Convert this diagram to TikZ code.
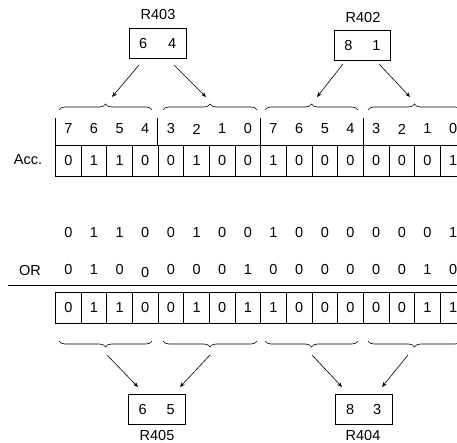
\documentclass[tikz,border=0pt]{standalone}
\usepackage{fontspec}
\setmainfont{Liberation Sans}
\usetikzlibrary{decorations.pathreplacing,arrows.meta}
\begin{document}
\begin{tikzpicture}[x=1pt,y=-1pt,
  every node/.style={font=\fontsize{14.5}{16}\selectfont, inner sep=0pt},
  cell/.style={draw, line width=0.75pt, minimum width=25.65pt, minimum height=31pt},
  rescell/.style={draw, line width=0.75pt, minimum width=25.65pt, minimum height=30.5pt},
  reg/.style={draw, line width=0.75pt, minimum width=56.5pt, minimum height=30pt},
  conn/.style={line width=0.6pt, -{Stealth[length=5pt,width=4pt]}},
  bracebox/.style={decorate, decoration={brace, amplitude=6pt}, line width=0.6pt},
  rule/.style={line width=0.75pt}]
\useasboundingbox (0,0) rectangle (457,442);
\clip (0,0) rectangle (457,442);
% header bit numbers
\foreach \d [count=\i from 0] in {7,6,5,4,3,2,1,0,7,6,5,4,3,2,1,0}
  \node (h\i) at ({55.5+25.65*(\i+0.5)},129) {\d};
% accumulator
\node (acc) at (28,160) {Acc.};
\foreach \v [count=\i from 0] in {0,1,1,0,0,1,0,0,1,0,0,0,0,0,0,1}
  \node[cell] (a\i) at ({55.5+25.65*(\i+0.5)},160.5) {\v};
\foreach \k in {0,4,8,12}
  \draw[rule] (a\k.north west) -- ++(0,-27);
% operand rows
\foreach \v [count=\i from 0] in {0,1,1,0,0,1,0,0,1,0,0,0,0,0,0,1}
  \node (p\i) at ({55.5+25.65*(\i+0.5)},233) {\v};
\node (orl) at (30,271) {OR};
\foreach \v/\yy [count=\i from 0] in {0/270,1/270,0/270,0/273,0/270,0/270,0/270,1/270,0/270,0/270,0/270,0/270,0/270,0/270,1/270,0/270}
  \node (q\i) at ({55.5+25.65*(\i+0.5)},\yy) {\v};
\coordinate (ruleL) at (8,285);
\coordinate (ruleR) at (457,285);
\draw[rule] (ruleL) -- (ruleR);
% result
\foreach \v [count=\i from 0] in {0,1,1,0,0,1,0,1,1,0,0,0,0,0,1,1}
  \node[rescell] (r\i) at ({55.5+25.65*(\i+0.5)},308) {\v};
% top braces
\draw[bracebox] (59,110) -- (152,110);
\draw[bracebox] (163,110) -- (257,110);
\draw[bracebox] (265,110) -- (358,110);
\draw[bracebox] (368,110) -- (461,110);
% bottom braces
\draw[bracebox] (152,341) -- (59,341);
\draw[bracebox] (257,341) -- (163,341);
\draw[bracebox] (358,341) -- (265,341);
\draw[bracebox] (461,341) -- (368,341);
% registers
\node (l403) at (158,15) {R403};
\node[reg] (b403) at (157.7,43.3) {6\hspace{21pt}4};
\node (l402) at (363,18) {R402};
\node[reg] (b402) at (362.5,45.3) {8\hspace{20pt}1};
\node[reg] (b405) at (156.7,409) {6\hspace{20pt}5};
\node (l405) at (157,435) {R405};
\node[reg] (b404) at (363.7,409) {8\hspace{19pt}3};
\node (l404) at (363,435) {R404};
% arrow end points
\coordinate (s1) at (139,65);  \coordinate (e1) at (112,97);
\coordinate (s2) at (174,65);  \coordinate (e2) at (206,97);
\coordinate (s3) at (343,64);  \coordinate (e3) at (317,97);
\coordinate (s4) at (379,64);  \coordinate (e4) at (410,97);
\coordinate (s5) at (107,355); \coordinate (e5) at (138,387);
\coordinate (s6) at (210,355); \coordinate (e6) at (180,387);
\coordinate (s7) at (312,355); \coordinate (e7) at (342,387);
\coordinate (s8) at (408,355); \coordinate (e8) at (382,387);
\foreach \n in {1,...,8}
  \draw[conn] (s\n) -- (e\n);
\end{tikzpicture}
\end{document}
